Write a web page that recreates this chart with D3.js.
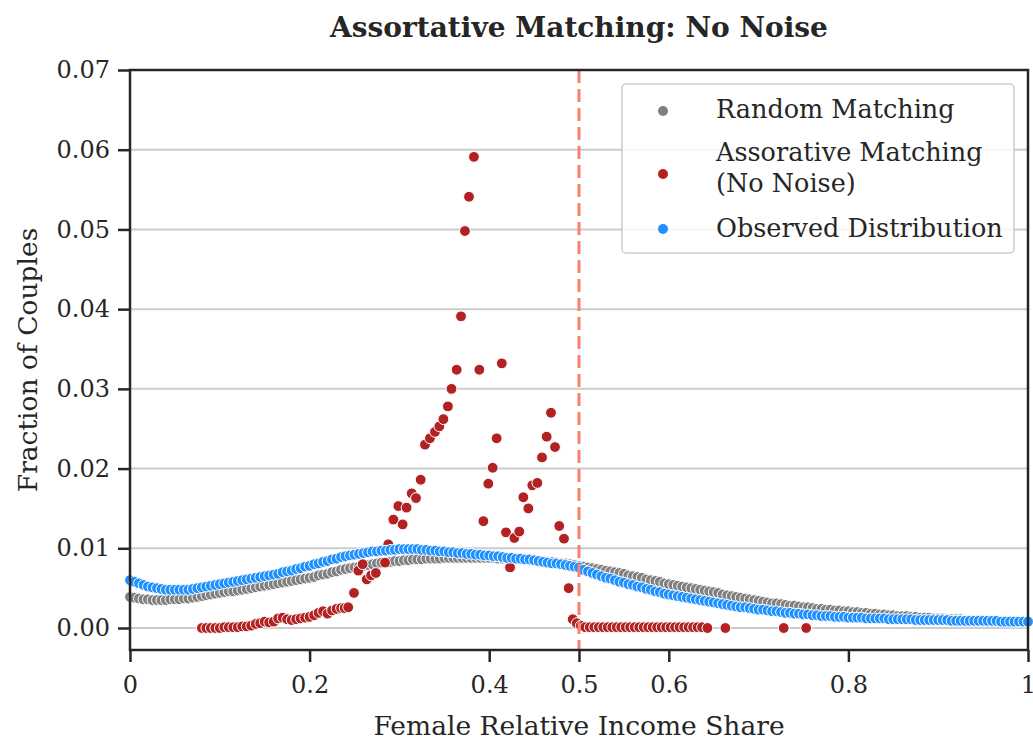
<!DOCTYPE html>
<html>
<head>
<meta charset="utf-8">
<script src="https://cdn.jsdelivr.net/npm/d3@7"></script>
<style>
  html, body { margin: 0; padding: 0; background: #ffffff; }
  svg { display: block; }
  text { font-family: "DejaVu Serif", serif; fill: #262626; }
</style>
</head>
<body>
<svg id="chart" width="1033" height="743"></svg>
<script>
// Female relative income share grid (shared by the random and observed series)
const incomeShare = [
  0.000,0.005,0.010,0.015,0.020,0.025,0.030,0.035,0.040,0.045,
  0.050,0.055,0.060,0.065,0.070,0.075,0.080,0.085,0.090,0.095,
  0.100,0.105,0.110,0.115,0.120,0.125,0.130,0.135,0.140,0.145,
  0.150,0.155,0.160,0.165,0.170,0.175,0.180,0.185,0.190,0.195,
  0.200,0.205,0.210,0.215,0.220,0.225,0.230,0.235,0.240,0.245,
  0.250,0.255,0.260,0.265,0.270,0.275,0.280,0.285,0.290,0.295,
  0.300,0.305,0.310,0.315,0.320,0.325,0.330,0.335,0.340,0.345,
  0.350,0.355,0.360,0.365,0.370,0.375,0.380,0.385,0.390,0.395,
  0.400,0.405,0.410,0.415,0.420,0.425,0.430,0.435,0.440,0.445,
  0.450,0.455,0.460,0.465,0.470,0.475,0.480,0.485,0.490,0.495,
  0.500,0.505,0.510,0.515,0.520,0.525,0.530,0.535,0.540,0.545,
  0.550,0.555,0.560,0.565,0.570,0.575,0.580,0.585,0.590,0.595,
  0.600,0.605,0.610,0.615,0.620,0.625,0.630,0.635,0.640,0.645,
  0.650,0.655,0.660,0.665,0.670,0.675,0.680,0.685,0.690,0.695,
  0.700,0.705,0.710,0.715,0.720,0.725,0.730,0.735,0.740,0.745,
  0.750,0.755,0.760,0.765,0.770,0.775,0.780,0.785,0.790,0.795,
  0.800,0.805,0.810,0.815,0.820,0.825,0.830,0.835,0.840,0.845,
  0.850,0.855,0.860,0.865,0.870,0.875,0.880,0.885,0.890,0.895,
  0.900,0.905,0.910,0.915,0.920,0.925,0.930,0.935,0.940,0.945,
  0.950,0.955,0.960,0.965,0.970,0.975,0.980,0.985,0.990,0.995,
  1.000
];

// Random matching: fraction of couples at each income share
const randomMatching = [
  0.0039,0.0038,0.0037,0.0036,0.0036,0.0035,0.0035,0.0035,0.0035,0.0036,
  0.0036,0.0036,0.0037,0.0037,0.0038,0.0039,0.0040,0.0041,0.0042,0.0043,
  0.0044,0.0045,0.0046,0.0046,0.0047,0.0048,0.0049,0.0050,0.0051,0.0052,
  0.0053,0.0054,0.0055,0.0056,0.0057,0.0058,0.0059,0.0060,0.0061,0.0062,
  0.0063,0.0064,0.0066,0.0067,0.0068,0.0070,0.0071,0.0073,0.0074,0.0075,
  0.0076,0.0077,0.0078,0.0079,0.0080,0.0081,0.0082,0.0082,0.0083,0.0084,
  0.0084,0.0085,0.0085,0.0086,0.0086,0.0086,0.0087,0.0087,0.0087,0.0087,
  0.0088,0.0088,0.0088,0.0088,0.0088,0.0088,0.0088,0.0088,0.0088,0.0088,
  0.0088,0.0088,0.0087,0.0087,0.0087,0.0087,0.0086,0.0086,0.0086,0.0085,
  0.0085,0.0084,0.0084,0.0083,0.0083,0.0082,0.0081,0.0081,0.0080,0.0079,
  0.0078,0.0077,0.0076,0.0075,0.0074,0.0073,0.0072,0.0071,0.0070,0.0069,
  0.0068,0.0066,0.0065,0.0064,0.0063,0.0061,0.0060,0.0059,0.0058,0.0056,
  0.0055,0.0054,0.0053,0.0052,0.0051,0.0050,0.0049,0.0048,0.0047,0.0046,
  0.0045,0.0044,0.0042,0.0041,0.0040,0.0039,0.0038,0.0037,0.0036,0.0035,
  0.0034,0.0033,0.0032,0.0031,0.0031,0.0030,0.0029,0.0028,0.0028,0.0027,
  0.0026,0.0026,0.0025,0.0024,0.0024,0.0023,0.0023,0.0022,0.0022,0.0021,
  0.0021,0.0020,0.0020,0.0019,0.0019,0.0018,0.0018,0.0017,0.0017,0.0016,
  0.0016,0.0015,0.0015,0.0015,0.0014,0.0014,0.0013,0.0013,0.0013,0.0012,
  0.0012,0.0012,0.0011,0.0011,0.0011,0.0011,0.0010,0.0010,0.0010,0.0010,
  0.0010,0.0009,0.0009,0.0009,0.0009,0.0009,0.0009,0.0008,0.0008,0.0008,
  0.0008
];

// Observed distribution of couples
const observed = [
  0.0060,0.0058,0.0056,0.0054,0.0052,0.0051,0.0050,0.0049,0.0048,0.0048,
  0.0048,0.0048,0.0048,0.0048,0.0049,0.0050,0.0051,0.0052,0.0053,0.0054,
  0.0055,0.0056,0.0057,0.0058,0.0059,0.0060,0.0061,0.0062,0.0063,0.0064,
  0.0065,0.0066,0.0067,0.0068,0.0070,0.0071,0.0072,0.0074,0.0075,0.0077,
  0.0078,0.0080,0.0081,0.0083,0.0084,0.0086,0.0087,0.0089,0.0090,0.0091,
  0.0092,0.0093,0.0094,0.0095,0.0096,0.0096,0.0097,0.0097,0.0098,0.0098,
  0.0099,0.0099,0.0099,0.0099,0.0099,0.0098,0.0098,0.0097,0.0097,0.0096,
  0.0096,0.0095,0.0095,0.0094,0.0094,0.0093,0.0093,0.0092,0.0092,0.0091,
  0.0091,0.0090,0.0090,0.0089,0.0088,0.0088,0.0087,0.0087,0.0086,0.0086,
  0.0085,0.0084,0.0083,0.0082,0.0081,0.0081,0.0080,0.0079,0.0078,0.0077,
  0.0076,0.0073,0.0071,0.0069,0.0067,0.0065,0.0063,0.0062,0.0060,0.0058,
  0.0057,0.0055,0.0054,0.0052,0.0051,0.0049,0.0048,0.0046,0.0045,0.0043,
  0.0042,0.0041,0.0040,0.0039,0.0038,0.0037,0.0036,0.0035,0.0034,0.0033,
  0.0032,0.0031,0.0030,0.0029,0.0028,0.0027,0.0026,0.0026,0.0025,0.0024,
  0.0023,0.0023,0.0022,0.0021,0.0021,0.0020,0.0019,0.0019,0.0018,0.0018,
  0.0017,0.0017,0.0016,0.0016,0.0015,0.0015,0.0015,0.0014,0.0014,0.0014,
  0.0013,0.0013,0.0013,0.0013,0.0012,0.0012,0.0012,0.0012,0.0012,0.0011,
  0.0011,0.0011,0.0011,0.0011,0.0011,0.0010,0.0010,0.0010,0.0010,0.0010,
  0.0010,0.0010,0.0010,0.0009,0.0009,0.0009,0.0009,0.0009,0.0009,0.0009,
  0.0009,0.0009,0.0009,0.0009,0.0008,0.0008,0.0008,0.0008,0.0008,0.0008,
  0.0008
];

// Assortative matching without noise: income shares and fractions of couples
const assortShare = [
  0.080,0.085,0.090,0.095,0.100,0.105,0.110,0.115,0.120,0.125,
  0.130,0.135,0.140,0.145,0.150,0.155,0.160,0.165,0.170,0.175,
  0.180,0.185,0.190,0.195,0.200,0.205,0.210,0.215,0.220,0.225,
  0.230,0.235,0.239,0.243,0.2494,0.2543,0.2591,0.2636,0.2685,0.2738,
  0.2840,0.2876,0.2933,0.2988,0.3036,0.3080,0.3137,0.3185,0.3237,0.3285,
  0.3340,0.3396,0.3445,0.3490,0.3540,0.3580,0.3638,0.3686,0.3730,0.3775,
  0.3830,0.3890,0.3935,0.3990,0.4039,0.4083,0.4140,0.4187,0.4232,0.4280,
  0.4335,0.4380,0.4436,0.4480,0.4536,0.4588,0.4640,0.4688,0.4733,0.4780,
  0.4833,0.4885,0.4930,0.4975,0.5020,
  0.507,0.512,0.517,0.522,0.527,0.532,0.537,0.542,0.547,0.552,
  0.557,0.562,0.567,0.572,0.577,0.582,0.587,0.592,0.597,0.602,
  0.607,0.612,0.617,0.622,0.627,0.632,0.637,
  0.643,0.663,0.728,0.753
];
const assortative = [
  0.0000,0.0000,0.0000,0.0000,0.0000,0.0001,0.0001,0.0001,0.0001,0.0002,
  0.0002,0.0003,0.0005,0.0006,0.0008,0.0007,0.0008,0.0012,0.0013,0.0011,
  0.0010,0.0011,0.0012,0.0013,0.0014,0.0016,0.0019,0.0021,0.0018,0.0022,
  0.0024,0.0025,0.0025,0.0026,0.0044,0.0072,0.0080,0.0061,0.0066,0.0069,
  0.0082,0.0105,0.0136,0.0153,0.0130,0.0151,0.0169,0.0163,0.0186,0.0230,
  0.0238,0.0246,0.0253,0.0262,0.0278,0.0300,0.0324,0.0391,0.0498,0.0541,
  0.0591,0.0324,0.0134,0.0181,0.0201,0.0238,0.0332,0.0120,0.0076,0.0113,
  0.0121,0.0164,0.0150,0.0179,0.0182,0.0214,0.0240,0.0270,0.0227,0.0128,
  0.0112,0.0050,0.0011,0.0006,0.0003,
  0.0001,0.0001,0.0001,0.0001,0.0001,0.0001,0.0001,0.0001,0.0001,0.0001,
  0.0001,0.0001,0.0001,0.0001,0.0001,0.0001,0.0001,0.0001,0.0001,0.0001,
  0.0001,0.0001,0.0001,0.0001,0.0001,0.0001,0.0001,
  0.0000,0.0000,0.0000,0.0000
];

const xTicks = [0, 0.2, 0.4, 0.5, 0.6, 0.8, 1];
const xTickLabels = ["0", "0.2", "0.4", "0.5", "0.6", "0.8", "1"];
const yTicks = [0, 0.01, 0.02, 0.03, 0.04, 0.05, 0.06, 0.07];
const yTickLabels = ["0.00", "0.01", "0.02", "0.03", "0.04", "0.05", "0.06", "0.07"];
const legendLabels = [["Random Matching"], ["Assorative Matching", "(No Noise)"], ["Observed Distribution"]];
const seriesColors = ["#808080", "#b22222", "#1e90ff"];
const parityShare = 0.5;

const svg = d3.select("#chart");
const margin = { left: 130, right: 1028, top: 70, bottom: 650 };

const x = d3.scaleLinear().domain([0, 1]).range([margin.left, margin.right]);
const y = d3.scaleLinear().domain([-0.00276, 0.07]).range([margin.bottom, margin.top]);

// Horizontal grid
svg.append("g")
  .selectAll("line")
  .data(yTicks)
  .join("line")
  .attr("x1", margin.left).attr("x2", margin.right)
  .attr("y1", d => y(d)).attr("y2", d => y(d))
  .attr("stroke", "#cccccc").attr("stroke-width", 2);

// Scatter layers: random, assortative, observed
const series = [
  { xs: incomeShare, ys: randomMatching, color: seriesColors[0] },
  { xs: assortShare, ys: assortative, color: seriesColors[1] },
  { xs: incomeShare, ys: observed, color: seriesColors[2] }
];
const plot = svg.append("g");
series.forEach(s => {
  plot.append("g")
    .selectAll("circle")
    .data(s.ys.map((v, i) => [s.xs[i], v]))
    .join("circle")
    .attr("cx", d => x(d[0]))
    .attr("cy", d => y(d[1]))
    .attr("r", 5.4)
    .attr("fill", s.color)
    .attr("stroke", "#ffffff")
    .attr("stroke-width", 1);
});

// Parity line at equal income shares
svg.append("line")
  .attr("x1", x(parityShare)).attr("x2", x(parityShare))
  .attr("y1", margin.top).attr("y2", margin.bottom)
  .attr("stroke", "#fa8072").attr("stroke-width", 3)
  .attr("stroke-dasharray", "13,6");

// Axes
const xAxis = d3.axisBottom(x).tickValues(xTicks)
  .tickFormat((d, i) => xTickLabels[i]).tickSize(12).tickPadding(9);
const yAxis = d3.axisLeft(y).tickValues(yTicks)
  .tickFormat((d, i) => yTickLabels[i]).tickSize(12).tickPadding(8);

const gx = svg.append("g").attr("transform", `translate(0,${margin.bottom})`).call(xAxis);
const gy = svg.append("g").attr("transform", `translate(${margin.left},0)`).call(yAxis);
[gx, gy].forEach(g => {
  g.select(".domain").remove();
  g.selectAll(".tick line").attr("stroke", "#262626").attr("stroke-width", 2.5);
  g.selectAll(".tick text")
    .attr("fill", "#262626")
    .style("font-family", "'DejaVu Serif', serif")
    .style("font-size", "24px");
});
gx.selectAll(".tick text").attr("dy", "0.9em");

// Frame
svg.append("rect")
  .attr("x", margin.left).attr("y", margin.top)
  .attr("width", margin.right - margin.left)
  .attr("height", margin.bottom - margin.top)
  .attr("fill", "none").attr("stroke", "#262626").attr("stroke-width", 2.5);

// Title and axis labels
svg.append("text")
  .attr("x", (margin.left + margin.right) / 2).attr("y", 37)
  .attr("text-anchor", "middle")
  .style("font-size", "28px").style("font-weight", "bold")
  .text("Assortative Matching: No Noise");

svg.append("text")
  .attr("x", (margin.left + margin.right) / 2).attr("y", 735)
  .attr("text-anchor", "middle")
  .style("font-size", "26.5px")
  .text("Female Relative Income Share");

svg.append("text")
  .attr("transform", `translate(37,${(margin.top + margin.bottom) / 2}) rotate(-90)`)
  .attr("text-anchor", "middle")
  .style("font-size", "26.5px")
  .text("Fraction of Couples");

// Legend
const legend = svg.append("g");
legend.append("rect")
  .attr("x", 622).attr("y", 84).attr("width", 392).attr("height", 169)
  .attr("rx", 4).attr("fill", "#ffffff").attr("fill-opacity", 0.8)
  .attr("stroke", "#cccccc").attr("stroke-width", 1.5);

const legendRows = [
  { markerY: 111, baselines: [118] },
  { markerY: 174, baselines: [161, 192] },
  { markerY: 229, baselines: [237] }
];
legendRows.forEach((row, i) => {
  legend.append("circle")
    .attr("cx", 663).attr("cy", row.markerY).attr("r", 5)
    .attr("fill", seriesColors[i]);
  legendLabels[i].forEach((line, j) => {
    legend.append("text")
      .attr("x", 716).attr("y", row.baselines[j])
      .style("font-size", "25.5px")
      .text(line);
  });
});
</script>
</body>
</html>
